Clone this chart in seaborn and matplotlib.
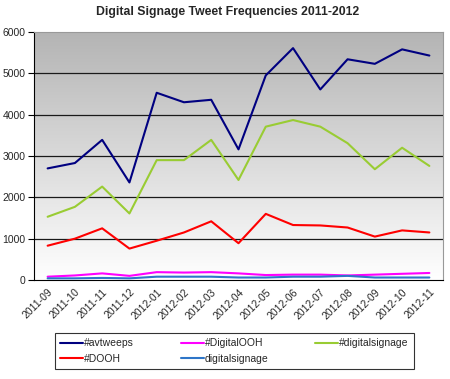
import numpy as np
import pandas as pd
import matplotlib
matplotlib.use("Agg")
import matplotlib.pyplot as plt
import seaborn as sns

months = ["2011-09", "2011-10", "2011-11", "2011-12", "2012-01", "2012-02", "2012-03",
          "2012-04", "2012-05", "2012-06", "2012-07", "2012-08", "2012-09", "2012-10", "2012-11"]
avtweeps = [2700, 2830, 3390, 2360, 4530, 4300, 4360, 3160, 4950, 5610, 4610, 5340, 5230, 5580, 5430]
digitalooh = [80, 110, 160, 100, 190, 180, 190, 160, 120, 130, 130, 110, 130, 150, 170]
hash_digitalsignage = [1530, 1770, 2260, 1610, 2900, 2900, 3390, 2420, 3710, 3870, 3710, 3310, 2680, 3200, 2760]
dooh = [830, 1000, 1250, 760, 950, 1150, 1420, 890, 1600, 1330, 1320, 1270, 1050, 1200, 1150]
digitalsignage = [40, 40, 50, 40, 80, 80, 80, 60, 60, 80, 80, 100, 60, 60, 60]

series = {
    "#avtweeps": avtweeps,
    "#DigitalOOH": digitalooh,
    "#digitalsignage": hash_digitalsignage,
    "#DOOH": dooh,
    "digitalsignage": digitalsignage,
}
colors = {
    "#avtweeps": "#000080",
    "#DigitalOOH": "#ff00ff",
    "#digitalsignage": "#99cc33",
    "#DOOH": "#ff0000",
    "digitalsignage": "#2e75c8",
}

rows = []
for name, vals in series.items():
    for i, v in enumerate(vals):
        rows.append({"idx": i, "count": v, "tag": name})
df = pd.DataFrame(rows)

sns.set_style("white")
plt.rcParams["font.family"] = ["Liberation Sans", "DejaVu Sans"]

fig = plt.figure(figsize=(4.5, 3.79), dpi=100)
ax = fig.add_axes([34 / 450, 99 / 379, 409 / 450, 248 / 379])

n = len(months)
# gradient background: grey at the top fading to white at the bottom
grad = np.linspace(0, 1, 256).reshape(-1, 1)
cmap = matplotlib.colors.LinearSegmentedColormap.from_list("bg", ["#b4b4b4", "#ffffff"])
ax.imshow(grad, aspect="auto", cmap=cmap, origin="upper",
          extent=(-0.5, n - 0.5, 0, 6000), zorder=0)

for y in range(1000, 6000, 1000):
    ax.axhline(y, color="#1a1a1a", lw=0.9, zorder=1)

sns.lineplot(data=df, x="idx", y="count", hue="tag", palette=colors,
             hue_order=list(series.keys()), lw=1.5, ax=ax, legend=True, zorder=3)

ax.set_xlim(-0.5, n - 0.5)
ax.set_ylim(0, 6000)
ax.set_yticks(range(0, 6001, 1000))
ax.set_yticklabels([str(v) for v in range(0, 6001, 1000)], fontsize=7.5)
ax.set_xticks(range(n))
ax.set_xticklabels(months, rotation=45, ha="right", rotation_mode="anchor", fontsize=7.5)
ax.set_xticks(np.arange(-0.5, n, 1), minor=True)
ax.tick_params(axis="x", which="major", length=0, pad=5)
ax.tick_params(axis="x", which="minor", length=4, width=0.8, color="black", direction="out")
ax.tick_params(axis="y", length=4, width=0.8, color="black", direction="out", pad=2, left=True)
ax.set_xlabel("")
ax.set_ylabel("")

for s in ["top", "right"]:
    ax.spines[s].set_color("#999999")
    ax.spines[s].set_linewidth(0.8)
for s in ["left", "bottom"]:
    ax.spines[s].set_color("black")
    ax.spines[s].set_linewidth(0.8)

fig.suptitle("Digital Signage Tweet Frequencies 2011-2012", x=0.505, y=0.985,
             fontsize=8.8, fontweight="bold")

handles, labels = ax.get_legend_handles_labels()
ax.get_legend().remove()
lookup = dict(zip(labels, handles))
order = ["#avtweeps", "#DOOH", "#DigitalOOH", "digitalsignage", "#digitalsignage"]
leg = fig.legend([lookup[k] for k in order], order, loc="center", ncol=3,
                 bbox_to_anchor=(0.521, 0.074), fontsize=7.5, frameon=True,
                 fancybox=False, edgecolor="black", handlelength=2.2,
                 handletextpad=0.1, columnspacing=4.5, labelspacing=0.5,
                 borderpad=0.5)
leg.get_frame().set_linewidth(0.8)

fig.savefig("out.png", dpi=100)
